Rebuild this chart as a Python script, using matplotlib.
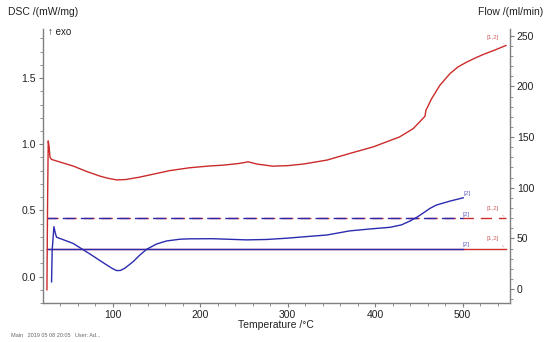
import matplotlib
matplotlib.use("Agg")
import matplotlib.pyplot as plt
from matplotlib.ticker import MultipleLocator

plt.rcParams['font.family'] = ['Liberation Sans', 'DejaVu Sans']

# DSC curve [1,2] (red)
red_T = [25.0, 25.8, 26.5, 27.5, 28.5, 30.3, 40, 55, 70, 85, 95, 105, 115, 130, 142, 165,
         188, 210, 227, 245, 255, 265, 283, 300, 318, 345, 371, 398, 428, 443.6, 457, 458.1,
         464.6, 474, 485.5, 495, 504.6, 514, 523.6, 537, 549.5]
red_v = [-0.1, 0.6, 1.025, 0.98, 0.90, 0.885, 0.865, 0.835, 0.795, 0.76, 0.742, 0.73,
         0.733, 0.75, 0.767, 0.80, 0.822, 0.835, 0.842, 0.855, 0.867, 0.85, 0.834, 0.838,
         0.85, 0.88, 0.93, 0.98, 1.055, 1.118, 1.211, 1.256, 1.344, 1.445, 1.533, 1.585,
         1.62, 1.65, 1.678, 1.712, 1.746]

# DSC curve [2] (blue)
blue_T = [30.3, 31.0, 33.0, 34.5, 36, 45, 55, 74, 93.2, 100, 104.6, 109, 114.1, 123.6,
          131.3, 139, 150.3, 161.8, 177, 188, 214, 253, 276, 300, 318, 345, 371, 395, 417,
          430, 440, 447.5, 455, 462.7, 470, 485.5, 500.7]
blue_v = [-0.04, 0.2, 0.377, 0.33, 0.297, 0.275, 0.25, 0.171, 0.088, 0.06, 0.045, 0.046,
          0.063, 0.113, 0.163, 0.206, 0.246, 0.269, 0.282, 0.285, 0.286, 0.277, 0.28, 0.29,
          0.30, 0.314, 0.345, 0.36, 0.372, 0.39, 0.42, 0.447, 0.48, 0.515, 0.54, 0.57, 0.595]

# Flow lines (ml/min)
flow_red_T = [25, 550]
flow_blue_T = [25, 500]
flow_high = 70
flow_low = 40

RED = '#cc2b2b'
BLUE = '#2b2bb0'
GREY = '#7f7f7f'

fig = plt.figure(figsize=(5.5, 3.42), dpi=100)
ax = fig.add_axes([0.078, 0.114, 0.849, 0.801])
ax2 = ax.twinx()

ax.set_xlim(20.4, 554)
ax.set_ylim(-0.2, 1.87)
ax2.set_ylim(-13.8, 256.6)

# flow lines
ax2.plot(flow_red_T, [flow_low, flow_low], color=RED, lw=1.0)
ax2.plot(flow_blue_T, [flow_low, flow_low], color=BLUE, lw=1.0)
ax2.plot(flow_red_T, [flow_high, flow_high], color=RED, lw=1.0, linestyle=(0, (8, 5)))
ax2.plot(flow_blue_T, [flow_high, flow_high], color=BLUE, lw=1.0, linestyle=(2, (9, 4)))

ax.plot(red_T, red_v, color=RED, lw=1.0)
ax.plot(blue_T, blue_v, color=BLUE, lw=1.0)
ax.set_zorder(ax2.get_zorder() + 1)
ax.patch.set_visible(False)

# small curve labels
lab_fs = 4.5
ax.annotate('[1,2]', xy=(red_T[-1], red_v[-1]), xytext=(-14, 5), textcoords='offset points',
            fontsize=lab_fs, color='#d06060',
            arrowprops=dict(arrowstyle='-', color='#d09090', lw=0.4))
ax.text(blue_T[-1], blue_v[-1] + 0.01, '[2]', fontsize=lab_fs, color='#6060c0',
        ha='left', va='bottom')
ax2.text(500, flow_high + 1, '[2]', fontsize=lab_fs, color='#6060c0', ha='left', va='bottom')
ax2.text(500, flow_low + 1, '[2]', fontsize=lab_fs, color='#6060c0', ha='left', va='bottom')
ax2.annotate('[1,2]', xy=(550, flow_high), xytext=(-14, 6), textcoords='offset points',
             fontsize=lab_fs, color='#d06060',
             arrowprops=dict(arrowstyle='-', color='#d09090', lw=0.4))
ax2.annotate('[1,2]', xy=(550, flow_low), xytext=(-14, 6), textcoords='offset points',
             fontsize=lab_fs, color='#d06060',
             arrowprops=dict(arrowstyle='-', color='#d09090', lw=0.4))

# axes styling
for a in (ax, ax2):
    a.spines['top'].set_visible(False)
    for s in ('left', 'right', 'bottom'):
        a.spines[s].set_color(GREY)
        a.spines[s].set_linewidth(1.0)
ax.spines['right'].set_visible(False)
ax2.spines['left'].set_visible(False)
ax2.spines['bottom'].set_visible(False)

ax.xaxis.set_major_locator(MultipleLocator(100))
ax.xaxis.set_minor_locator(MultipleLocator(20))
ax.yaxis.set_major_locator(MultipleLocator(0.5))
ax.yaxis.set_minor_locator(MultipleLocator(0.1))
ax2.yaxis.set_major_locator(MultipleLocator(50))
ax2.yaxis.set_minor_locator(MultipleLocator(10))
ax.yaxis.set_major_formatter(matplotlib.ticker.FormatStrFormatter('%.1f'))

tick_fs = 7.5
for a in (ax, ax2):
    a.tick_params(which='major', length=3, width=0.8, color=GREY, labelsize=tick_fs,
                  labelcolor='#222222', pad=2)
    a.tick_params(which='minor', length=2, width=0.6, color=GREY)

ax.set_xlabel('Temperature /°C', fontsize=7.5, color='#222222', labelpad=0)

fig.text(0.015, 0.965, 'DSC /(mW/mg)', fontsize=7.5, color='#222222', ha='left', va='center')
fig.text(0.987, 0.965, 'Flow /(ml/min)', fontsize=7.5, color='#222222', ha='right', va='center')
fig.text(0.087, 0.905, '↑ exo', fontsize=7, color='#222222', ha='left', va='center')
fig.text(0.02, 0.02, 'Main   2019 05 08 20:05   User: Ad...', fontsize=4, color='#666666',
         ha='left', va='center')

fig.savefig('out.png', dpi=100)
